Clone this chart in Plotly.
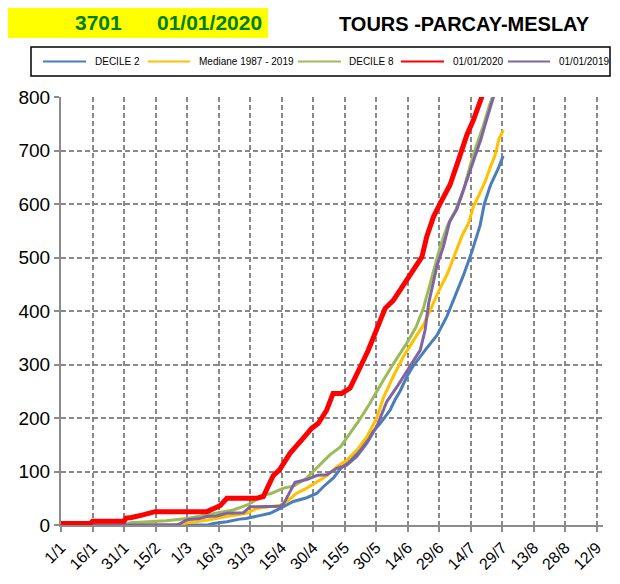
import plotly.graph_objects as go

# ---- data (day index from 1 January, value) ----
tick_days = [0, 15, 30, 45, 60, 75, 90, 105, 120, 135, 150, 165, 180, 195, 210, 225, 240, 255]
tick_labels = ["1/1", "16/1", "31/1", "15/2", "1/3", "16/3", "31/3", "15/4", "30/4", "15/5",
               "30/5", "14/6", "29/6", "14/7", "29/7", "13/8", "28/8", "12/9"]
y_ticks = [0, 100, 200, 300, 400, 500, 600, 700, 800]

decile2_days = [0, 70, 72.5, 79, 85, 88, 95, 99.5, 104.3, 110.6, 117, 121.7, 125, 129.7, 133, 137.6,
                142.4, 147, 152, 156.7, 159, 161.4, 164.6, 167.8, 174, 179, 183.7, 187.6, 191.6,
                195.6, 199.5, 201.5, 204.5, 208, 210.5]
decile2_vals = [0, 0, 3, 6, 11, 12, 18, 22, 31, 44, 51, 59, 72, 88, 105, 121, 140, 168, 190, 215,
                234, 250, 277, 298, 330, 355, 390, 427, 467, 511, 560, 600, 636, 665, 690]

mediane_days = [0, 55, 60, 69.4, 79, 88.4, 93.2, 104.3, 107.5, 112, 117, 121.7, 126.5, 131.3, 136,
                140.8, 145.6, 150.3, 153.5, 158.2, 163, 167, 172.5, 177.3, 180.5, 184, 187.6, 190.8,
                194, 196.3, 199, 202, 204.5, 206.7, 208.5, 210.6]
mediane_vals = [0, 0, 4, 9, 16, 22, 31, 37, 44, 59, 69, 80, 92, 109, 121, 140, 165, 200, 238, 278,
                315, 340, 374, 415, 443, 470, 508, 540, 564, 595, 617, 643, 670, 692, 722, 738]

decile8_days = [0, 30, 33, 50, 60, 69.4, 75.7, 82, 88.4, 91.6, 95, 100, 106, 111, 117, 122, 128, 133,
                138, 142, 147, 150.3, 153.5, 158, 164.6, 169, 172.5, 177, 180.5, 184, 188, 191.6,
                195, 198, 201, 204, 206, 208]
decile8_vals = [0, 0, 4, 8, 12, 19, 23, 28, 37, 44, 55, 59, 69, 73, 88, 108, 131, 146, 174, 196, 227,
                250, 271, 300, 340, 370, 405, 470, 520, 560, 590, 626, 675, 712, 746, 785, 805, 830]

y2020_days = [0, 14, 15, 30, 31, 33.6, 39, 44.8, 69.4, 72.5, 75.7, 79, 93.2, 96.3, 101, 104, 109,
              114.6, 119.4, 122.5, 126.5, 129.5, 133.6, 137.6, 140.8, 144, 146.3, 151, 154.3, 158.2,
              163.8, 167.8, 171.8, 174.1, 177.3, 180.5, 185.2, 189.2, 193.2, 196.3, 199.5, 202, 204]
y2020_vals = [3, 3, 7, 7, 13, 14, 19, 25, 25, 31, 36, 50, 50, 53, 92, 103, 134, 159, 181, 190, 215,
              246, 246, 256, 280, 308, 327, 371, 405, 420, 452, 477, 501, 539, 576, 601, 636, 682,
              729, 757, 788, 815, 840]

y2019_days = [0, 55, 57, 60, 66, 69.4, 74, 79, 86.8, 90, 104.3, 106, 111.4, 117, 122, 126.5, 131.3,
              136, 140.8, 145.6, 150.3, 155, 159.9, 166.2, 171, 173.3, 175, 177.3, 179, 182, 185,
              188.4, 192, 195.8, 199.8, 202, 204.5, 206, 208]
y2019_vals = [0, 0, 3, 10, 12, 16, 17, 22, 23, 34, 35, 40, 80, 85, 93, 94, 106, 112, 128, 153, 184,
              230, 258, 296, 327, 364, 414, 455, 485, 520, 567, 590, 630, 676, 720, 750, 785, 802, 825]

series_names = ["DECILE 2", "Mediane 1987 - 2019", "DECILE 8", "01/01/2020", "01/01/2019"]
series_days = [decile2_days, mediane_days, decile8_days, y2020_days, y2019_days]
series_vals = [decile2_vals, mediane_vals, decile8_vals, y2020_vals, y2019_vals]
series_colors = ["#4A7EBB", "#FFC000", "#9BBB59", "#FF0000", "#8064A2"]
series_widths = [3, 3, 3, 5, 3]

# ---- geometry (screen pixels; the page body adds an 8px offset) ----
OFF = 8
W, H = 620 - OFF, 584 - 2 * OFF
L, R, T = 61 - OFF, 17, 97 - OFF
B = H - T - 428
pw, ph = W - L - R, H - T - B


def px(sx):
    return (sx - OFF - L) / pw


def py(sy):
    return (H - B - (sy - OFF)) / ph


font_family = "Liberation Sans, Arial, sans-serif"

fig = go.Figure()
for i in [0, 1, 2, 4, 3]:  # 2020 drawn on top
    fig.add_trace(go.Scatter(x=series_days[i], y=series_vals[i], mode="lines",
                             name=series_names[i], showlegend=False,
                             line=dict(color=series_colors[i], width=series_widths[i])))

# ---- legend drawn as a boxed row ----
leg_line_x = [(43, 86), (148, 190), (298, 341), (401, 444), (508, 550)]
leg_text_x = [93, 197, 347, 451, 557]
leg_y = 61.5
shapes = [
    dict(type="rect", xref="paper", yref="paper", x0=px(0), x1=px(268), y0=py(38), y1=py(7),
         fillcolor="#FFFF00", line=dict(width=0), layer="below"),
    dict(type="rect", xref="paper", yref="paper", x0=px(31), x1=px(610), y0=py(76), y1=py(47),
         fillcolor="white", line=dict(color="black", width=1.5)),
]
annotations = [
    dict(text="<b>3701</b>", xref="paper", yref="paper", x=px(98), y=py(22), xanchor="center",
         yanchor="middle", showarrow=False, font=dict(size=21, color="#008000")),
    dict(text="<b>01/01/2020</b>", xref="paper", yref="paper", x=px(209), y=py(22),
         xanchor="center", yanchor="middle", showarrow=False, font=dict(size=21, color="#008000")),
    dict(text="<b>TOURS -PARCAY-MESLAY</b>", xref="paper", yref="paper", x=px(464), y=py(24),
         xanchor="center", yanchor="middle", showarrow=False, font=dict(size=20, color="black")),
]
for i in range(5):
    x0, x1 = leg_line_x[i]
    shapes.append(dict(type="line", xref="paper", yref="paper", x0=px(x0), x1=px(x1),
                       y0=py(leg_y), y1=py(leg_y), line=dict(color=series_colors[i], width=2)))
    annotations.append(dict(text=series_names[i], xref="paper", yref="paper", x=px(leg_text_x[i]),
                            y=py(leg_y), xanchor="left", yanchor="middle", showarrow=False,
                            font=dict(size=10, color="black")))

axis_common = dict(showgrid=True, gridcolor="#888888", gridwidth=1.5, griddash="5px,3px",
                   showline=True, linecolor="#8c8c8c", linewidth=2, ticks="outside", ticklen=5,
                   tickcolor="#8c8c8c", tickwidth=1.5, zeroline=False)

fig.update_layout(
    width=W, height=H,
    margin=dict(l=L, r=R, t=T, b=B, autoexpand=False),
    paper_bgcolor="white", plot_bgcolor="white",
    font=dict(family=font_family, color="black"),
    showlegend=False,
    xaxis=dict(range=[0, 258], tickmode="array", tickvals=tick_days, ticktext=tick_labels,
               tickangle=-45, tickfont=dict(size=16), **axis_common),
    yaxis=dict(range=[0, 800], tickmode="array", tickvals=y_ticks,
               tickfont=dict(size=19), **axis_common),
    shapes=shapes,
    annotations=annotations,
)

fig.write_html("out.html")
